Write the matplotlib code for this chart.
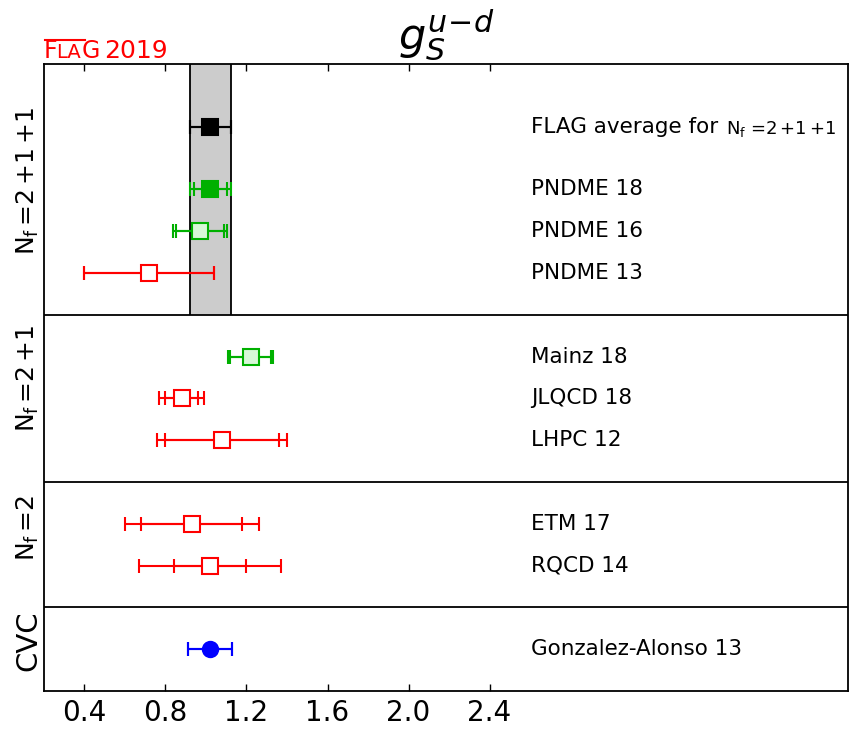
import matplotlib
matplotlib.use("Agg")
import matplotlib.pyplot as plt

plt.rcParams['mathtext.fontset'] = 'dejavusans'

# datos: valor central, error estadistico, error total
labels = ['Gonzalez-Alonso 13', 'RQCD 14', 'ETM 17', 'LHPC 12', 'JLQCD 18',
          'Mainz 18', 'PNDME 13', 'PNDME 16', 'PNDME 18', 'FLAG average for']
ypos = [1, 3, 4, 6, 7, 8, 10, 11, 12, 13.5]
values = [1.02, 1.02, 0.93, 1.08, 0.88, 1.22, 0.72, 0.97, 1.022, 1.022]
stat_err = [0.11, 0.18, 0.25, 0.28, 0.08, 0.10, 0.32, 0.12, 0.08, 0.10]
tot_err = [0.11, 0.35, 0.33, 0.32, 0.11, 0.11, 0.32, 0.134, 0.10, 0.10]
colors = ['#0000ff', '#ff0000', '#ff0000', '#ff0000', '#ff0000',
          '#00b000', '#ff0000', '#00b000', '#00b000', 'black']
faces = ['#0000ff', 'white', 'white', 'white', 'white',
         '#d8f8d8', 'white', '#d8f8d8', '#00b000', 'black']
markers = ['o', 's', 's', 's', 's', 's', 's', 's', 's', 's']

flag_avg = 1.022
flag_err = 0.10
flag_nf = r'N$_\mathrm{f}$ =2$\,$+1$\,$+1'

groups = [r'N$_\mathrm{f}$$\,$=2$\,$+1$\,$+1', r'N$_\mathrm{f}$$\,$=2$\,$+1',
          r'N$_\mathrm{f}$$\,$=2', 'CVC']
group_y = [12.2, 7.47, 3.9, 1.2]
group_size = [18, 18, 18, 21]
separators = [2, 5, 9]

xticks = [0.4, 0.8, 1.2, 1.6, 2.0, 2.4]

fig = plt.figure(figsize=(8.49, 7.31), dpi=100)
ax = fig.add_axes([0.0518, 0.0547, 0.947, 0.8577])

# banda del promedio FLAG
ax.fill_between([flag_avg - flag_err, flag_avg + flag_err], 9, 15,
                facecolor='#cccccc', edgecolor='none', zorder=1)
ax.vlines([flag_avg - flag_err, flag_avg + flag_err], 9, 15,
          colors='black', lw=1.3, zorder=2)

for y in separators:
    ax.axhline(y, color='black', lw=1.3, zorder=2)

for i in range(len(values)):
    ax.errorbar(values[i], ypos[i], xerr=tot_err[i], fmt='none',
                ecolor=colors[i], elinewidth=1.5, capsize=5, capthick=1.5, zorder=3)
    ax.errorbar(values[i], ypos[i], xerr=stat_err[i], fmt='none',
                ecolor=colors[i], elinewidth=1.5, capsize=5, capthick=1.5, zorder=3)
    ax.plot(values[i], ypos[i], marker=markers[i], ms=11, mfc=faces[i],
            mec=colors[i], mew=1.5, ls='none', zorder=4)
    ax.text(2.606, ypos[i], labels[i], fontsize=15.5, va='center', ha='left')

# N_f del promedio FLAG, mas pequeno
ax.text(3.57, ypos[-1] - 0.05, flag_nf, fontsize=13, va='center', ha='left')

for g, y, fs in zip(groups, group_y, group_size):
    ax.text(-0.02, y, g, transform=ax.get_yaxis_transform(), rotation=90,
            fontsize=fs, va='center', ha='center')

ax.set_xlim(0.2, 4.17)
ax.set_ylim(0, 15)
ax.set_yticks([])
ax.set_xticks(xticks)
ax.set_xticklabels([f'{t:.1f}' for t in xticks], fontsize=20)
ax.tick_params(axis='x', direction='in', top=True, length=5, width=1, pad=6)
for s in ax.spines.values():
    s.set_linewidth(1.3)

ax.set_title(r'$g_S^{u\!-\!d}$', fontsize=31, pad=11)

# logo FLAG 2019
base = 1 - 58 / 731
fig.text(44 / 849, base, 'F', color='#ff0000', fontsize=17, ha='left', va='baseline')
fig.text(56 / 849, base, 'LA', color='#ff0000', fontsize=14, ha='left', va='baseline')
fig.text(82 / 849, base, 'G', color='#ff0000', fontsize=17, ha='left', va='baseline')
fig.text(104 / 849, base, '2019', color='#ff0000', fontsize=18, ha='left', va='baseline')
fig.add_artist(plt.Line2D([45 / 849, 85 / 849], [1 - 40 / 731, 1 - 40 / 731],
                          color='#ff0000', lw=1.5))

fig.savefig('out.png', dpi=100)
